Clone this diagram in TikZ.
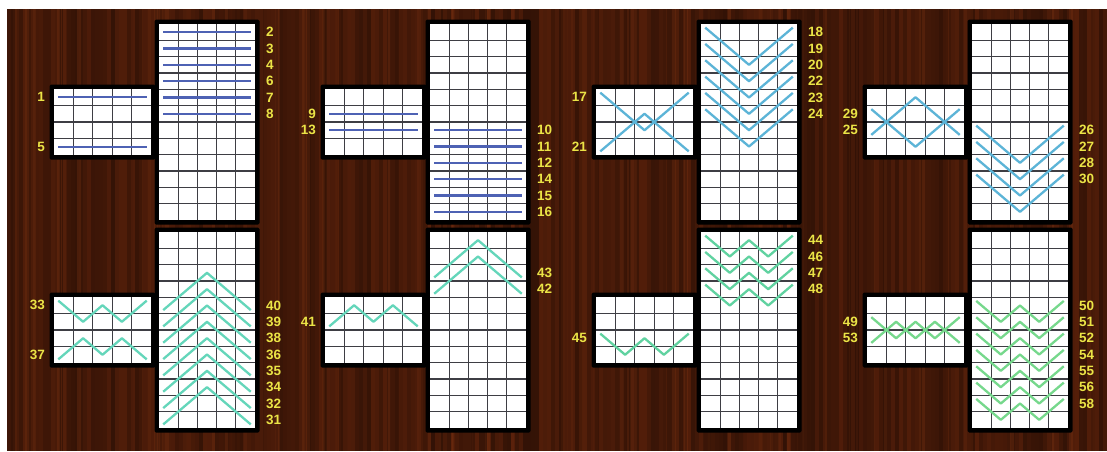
\documentclass[tikz,border=0pt]{standalone}
\usepackage{fontspec}
\setmainfont{Liberation Sans}
\usetikzlibrary{calc}
\definecolor{woodbase}{RGB}{82,30,10}
\definecolor{woodlight}{RGB}{130,55,20}
\definecolor{gridc}{RGB}{62,62,68}
\definecolor{labc}{RGB}{235,228,70}
\definecolor{blueL}{RGB}{78,98,180}
\definecolor{skyL}{RGB}{92,180,215}
\definecolor{aquaL}{RGB}{100,214,186}
\definecolor{tealL}{RGB}{96,210,160}
\definecolor{greenL}{RGB}{118,216,140}
\tikzset{
  gl/.style={draw=gridc,line width=1.35pt},
  pay/.style={line width=2.3pt,line join=round,draw=#1},
  lab/.style={text=labc,font=\fontsize{13.5}{13.5}\selectfont\bfseries,inner sep=0pt},
  cs/.style n args={4}{shift={(#1pt,-#2pt)},x=#3pt,y=-#4pt}
}
\newcommand\pl[6]{\draw[pay=#1] ($(0.5,#2-.5)!-0.28!(1.5,#3-.5)$) -- (0.5,#2-.5) -- (1.5,#3-.5) -- (2.5,#4-.5) -- (3.5,#5-.5) -- (4.5,#6-.5) -- ($(4.5,#6-.5)!-0.28!(3.5,#5-.5)$);}
\newcommand\plL[7]{\pl{#1}{#3}{#4}{#5}{#6}{#7}\node[lab,anchor=east,xshift=-9pt] (n#2) at (0,#3-.5) {#2};}
\newcommand\plR[7]{\pl{#1}{#3}{#4}{#5}{#6}{#7}\node[lab,anchor=west,xshift=11pt] (n#2) at (5,#3-.5) {#2};}
\newcommand\gridframe[1]{%
  \fill[black,rounded corners=1.5pt] ([shift={(-4.5pt,4.5pt)}]0,0) rectangle ([shift={(4.5pt,-4.5pt)}]5,#1);
  \fill[white] (0,0) rectangle (5,#1);
  \foreach \i in {1,...,4} \draw[gl] (\i,0) -- (\i,#1);
  \pgfmathtruncatemacro\lastrow{#1-1}
  \foreach \j in {1,...,\lastrow} \draw[gl] (0,\j) -- (5,\j);
}
\begin{document}
\begin{tikzpicture}[x=1pt,y=-1pt]
\useasboundingbox (0,0) rectangle (1107,451);
\fill[white] (0,0) rectangle (1107,451);
% wood background
\fill[woodbase] (7,9) rectangle (1107,451);
\pgfmathsetseed{11}
\foreach \i in {0,...,274}{
  \pgfmathsetmacro\xa{7+4*\i}
  \pgfmathsetmacro\oa{0.38*rnd}
  \fill[black,opacity=\oa] (\xa,9) rectangle (\xa+4,451);
}
\foreach \i in {0,...,110}{
  \pgfmathsetmacro\xa{7+1096*rnd}
  \pgfmathsetmacro\wa{1+3*rnd}
  \pgfmathsetmacro\oa{0.3*rnd}
  \fill[woodlight,opacity=\oa] (\xa,9) rectangle (\xa+\wa,451);
}
% ---------- group 1 ----------
\begin{scope}[cs={54}{89}{19.4}{16.5}]
  \gridframe{4}
  \plL{blueL}{1}{1}{1}{1}{1}{1}
  \plL{blueL}{5}{4}{4}{4}{4}{4}
\end{scope}
\begin{scope}[cs={159}{24}{19.2}{16.333}]
  \gridframe{12}
  \plR{blueL}{2}{1}{1}{1}{1}{1}
  \plR{blueL}{3}{2}{2}{2}{2}{2}
  \plR{blueL}{4}{3}{3}{3}{3}{3}
  \plR{blueL}{6}{4}{4}{4}{4}{4}
  \plR{blueL}{7}{5}{5}{5}{5}{5}
  \plR{blueL}{8}{6}{6}{6}{6}{6}
\end{scope}
\begin{scope}[cs={54}{297}{19.4}{16.5}]
  \gridframe{4}
  \plL{aquaL}{33}{1}{2}{1}{2}{1}
  \plL{aquaL}{37}{4}{3}{4}{3}{4}
\end{scope}
\begin{scope}[cs={159}{232}{19.2}{16.333}]
  \gridframe{12}
  \plR{aquaL}{40}{5}{4}{3}{4}{5}
  \plR{aquaL}{39}{6}{5}{4}{5}{6}
  \plR{aquaL}{38}{7}{6}{5}{6}{7}
  \plR{aquaL}{36}{8}{7}{6}{7}{8}
  \plR{aquaL}{35}{9}{8}{7}{8}{9}
  \plR{aquaL}{34}{10}{9}{8}{9}{10}
  \plR{aquaL}{32}{11}{10}{9}{10}{11}
  \plR{aquaL}{31}{12}{11}{10}{11}{12}
\end{scope}
% ---------- group 2 ----------
\begin{scope}[cs={325}{89}{19.4}{16.5}]
  \gridframe{4}
  \plL{blueL}{9}{2}{2}{2}{2}{2}
  \plL{blueL}{13}{3}{3}{3}{3}{3}
\end{scope}
\begin{scope}[cs={430}{24}{19.2}{16.333}]
  \gridframe{12}
  \plR{blueL}{10}{7}{7}{7}{7}{7}
  \plR{blueL}{11}{8}{8}{8}{8}{8}
  \plR{blueL}{12}{9}{9}{9}{9}{9}
  \plR{blueL}{14}{10}{10}{10}{10}{10}
  \plR{blueL}{15}{11}{11}{11}{11}{11}
  \plR{blueL}{16}{12}{12}{12}{12}{12}
\end{scope}
\begin{scope}[cs={325}{297}{19.4}{16.5}]
  \gridframe{4}
  \plL{aquaL}{41}{2}{1}{2}{1}{2}
\end{scope}
\begin{scope}[cs={430}{232}{19.2}{16.333}]
  \gridframe{12}
  \plR{aquaL}{43}{3}{2}{1}{2}{3}
  \plR{aquaL}{42}{4}{3}{2}{3}{4}
\end{scope}
% ---------- group 3 ----------
\begin{scope}[cs={596}{89}{19.4}{16.5}]
  \gridframe{4}
  \plL{skyL}{17}{1}{2}{3}{2}{1}
  \plL{skyL}{21}{4}{3}{2}{3}{4}
\end{scope}
\begin{scope}[cs={701}{24}{19.2}{16.333}]
  \gridframe{12}
  \plR{skyL}{18}{1}{2}{3}{2}{1}
  \plR{skyL}{19}{2}{3}{4}{3}{2}
  \plR{skyL}{20}{3}{4}{5}{4}{3}
  \plR{skyL}{22}{4}{5}{6}{5}{4}
  \plR{skyL}{23}{5}{6}{7}{6}{5}
  \plR{skyL}{24}{6}{7}{8}{7}{6}
\end{scope}
\begin{scope}[cs={596}{297}{19.4}{16.5}]
  \gridframe{4}
  \plL{tealL}{45}{3}{4}{3}{4}{3}
\end{scope}
\begin{scope}[cs={701}{232}{19.2}{16.333}]
  \gridframe{12}
  \plR{tealL}{44}{1}{2}{1}{2}{1}
  \plR{tealL}{46}{2}{3}{2}{3}{2}
  \plR{tealL}{47}{3}{4}{3}{4}{3}
  \plR{tealL}{48}{4}{5}{4}{5}{4}
\end{scope}
% ---------- group 4 ----------
\begin{scope}[cs={867}{89}{19.4}{16.5}]
  \gridframe{4}
  \plL{skyL}{29}{2}{3}{4}{3}{2}
  \plL{skyL}{25}{3}{2}{1}{2}{3}
\end{scope}
\begin{scope}[cs={972}{24}{19.2}{16.333}]
  \gridframe{12}
  \plR{skyL}{26}{7}{8}{9}{8}{7}
  \plR{skyL}{27}{8}{9}{10}{9}{8}
  \plR{skyL}{28}{9}{10}{11}{10}{9}
  \plR{skyL}{30}{10}{11}{12}{11}{10}
\end{scope}
\begin{scope}[cs={867}{297}{19.4}{16.5}]
  \gridframe{4}
  \plL{greenL}{49}{2}{3}{2}{3}{2}
  \plL{greenL}{53}{3}{2}{3}{2}{3}
\end{scope}
\begin{scope}[cs={972}{232}{19.2}{16.333}]
  \gridframe{12}
  \plR{greenL}{50}{5}{6}{5}{6}{5}
  \plR{greenL}{51}{6}{7}{6}{7}{6}
  \plR{greenL}{52}{7}{8}{7}{8}{7}
  \plR{greenL}{54}{8}{9}{8}{9}{8}
  \plR{greenL}{55}{9}{10}{9}{10}{9}
  \plR{greenL}{56}{10}{11}{10}{11}{10}
  \plR{greenL}{58}{11}{12}{11}{12}{11}
\end{scope}
\end{tikzpicture}
\end{document}
